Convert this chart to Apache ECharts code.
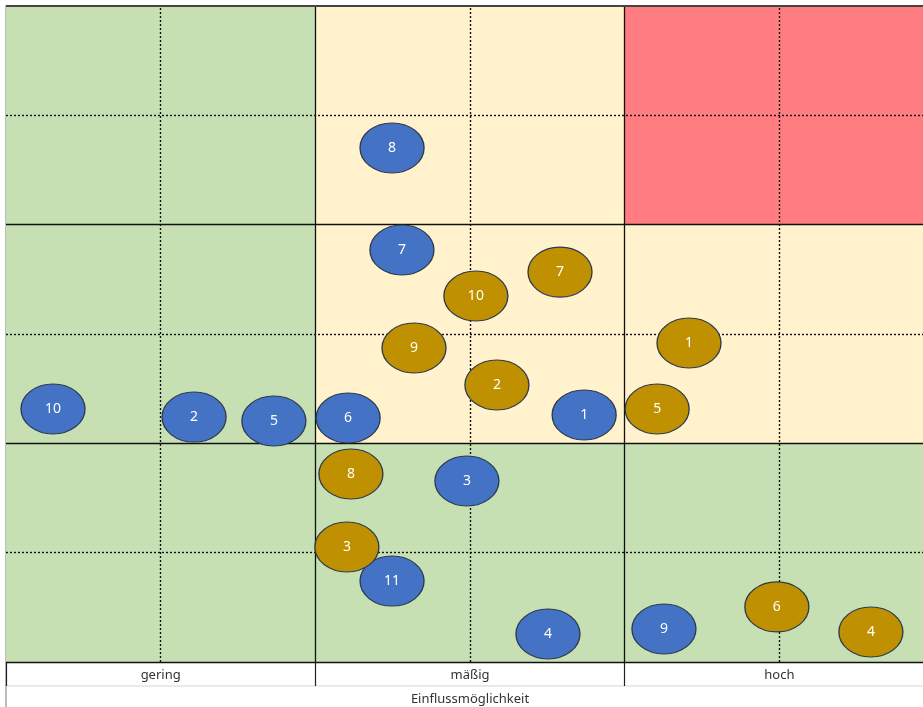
<!DOCTYPE html>
<html><head><meta charset="utf-8">
<script src="https://cdn.jsdelivr.net/npm/echarts@6/dist/echarts.min.js"></script>
<style>html,body{margin:0;padding:0;background:#fff}#c{width:923px;height:707px}</style>
</head><body><div id="c"></div>
<script>
const categories = ['gering', 'mäßig', 'hoch'];
const axisTitle = 'Einflussmöglichkeit';
// blue series
const blueX = [1.869, 0.608, 1.490, 1.752, 0.866, 1.106, 1.280, 1.248, 2.127, 0.152, 1.248];
const blueY = [1.130, 1.120, 0.828, 0.128, 1.102, 1.116, 1.884, 2.351, 0.151, 1.157, 0.370];
const blueLabels = ['1','2','3','4','5','6','7','8','9','10','11'];
// gold series
const goldX = [2.208, 1.587, 1.102, 2.796, 2.105, 2.492, 1.791, 1.115, 1.319, 1.519];
const goldY = [1.459, 1.267, 0.526, 0.137, 1.157, 0.252, 1.783, 0.860, 1.436, 1.674];
const goldLabels = ['1','2','3','4','5','6','7','8','9','10'];
// background zones: [x0, x1, y0, y1, colour]
const zones = [
  [0, 1, 0, 3, '#C6E0B4'],
  [1, 3, 0, 1, '#C6E0B4'],
  [1, 2, 1, 3, '#FFF2CC'],
  [2, 3, 1, 2, '#FFF2CC'],
  [2, 3, 2, 3, '#FF7C80']
];
const solidLines = [1, 2];
const dottedLines = [0.5, 1.5, 2.5];

const chart = echarts.init(document.getElementById('c'));
const font = 'Noto Sans';
function pts(xs, ys, ls) { return xs.map((x, i) => ({ value: [x, ys[i]], name: ls[i] })); }
const lineMarks = [];
solidLines.forEach(v => { lineMarks.push({ xAxis: v, lineStyle: { type: 'solid', color: '#111', width: 1.3 } }); lineMarks.push({ yAxis: v, lineStyle: { type: 'solid', color: '#111', width: 1.3 } }); });
dottedLines.forEach(v => { lineMarks.push({ xAxis: v, lineStyle: { type: [2, 2], color: '#111', width: 1.4 } }); lineMarks.push({ yAxis: v, lineStyle: { type: [2, 2], color: '#111', width: 1.4 } }); });
lineMarks.push({ yAxis: 3, lineStyle: { type: 'solid', color: '#444', width: 2 } });
lineMarks.push({ yAxis: 0, lineStyle: { type: 'solid', color: '#111', width: 1.3 } });

const ptStyle = (c) => ({
  type: 'scatter', symbol: 'circle', symbolSize: [64, 50], z: 5,
  itemStyle: { color: c, borderColor: '#2E3B4E', borderWidth: 1.2, opacity: 1 },
  label: { show: true, position: 'inside', formatter: p => p.name, color: '#fff', fontSize: 14, fontFamily: font },
  emphasis: { disabled: true }
});

chart.setOption({
  animation: false,
  grid: { left: 6, top: 6, width: 928, height: 656, outerBoundsMode: 'none', containLabel: false },
  xAxis: [
    { type: 'value', min: 0, max: 3, show: false },
    { type: 'category', data: categories, position: 'bottom', boundaryGap: true,
      axisLine: { show: false },
      axisTick: { show: true, length: 24, lineStyle: { color: '#222', width: 1.2 } },
      axisLabel: { color: '#333', fontSize: 13, fontFamily: font, margin: 7 },
      name: axisTitle, nameLocation: 'middle', nameGap: 31,
      nameTextStyle: { color: '#333', fontSize: 13, fontFamily: font } }
  ],
  yAxis: { type: 'value', min: 0, max: 3, axisLabel: { show: false }, axisTick: { show: false }, splitLine: { show: false },
    axisLine: { show: true, lineStyle: { color: '#BDBDBD', width: 2 } } },
  graphic: [
    { type: 'line', shape: { x1: 6, y1: 686, x2: 923, y2: 686 }, style: { stroke: '#E2E2E2', lineWidth: 1.5 } },
    { type: 'line', shape: { x1: 6, y1: 662, x2: 6, y2: 707 }, style: { stroke: '#BDBDBD', lineWidth: 2 } }
  ],
  series: [
    { type: 'scatter', data: [], z: 1, silent: true,
      markArea: { silent: true, data: zones.map(z => [{ xAxis: z[0], yAxis: z[2], itemStyle: { color: z[4] } }, { xAxis: z[1], yAxis: z[3] }]) } },
    { type: 'scatter', data: [], z: 2, silent: true,
      markLine: { silent: true, symbol: 'none', label: { show: false }, data: lineMarks } },
    Object.assign(ptStyle('#4472C4'), { name: 'blau', data: pts(blueX, blueY, blueLabels) }),
    Object.assign(ptStyle('#BF9000'), { name: 'gold', data: pts(goldX, goldY, goldLabels) })
  ]
});
</script></body></html>
